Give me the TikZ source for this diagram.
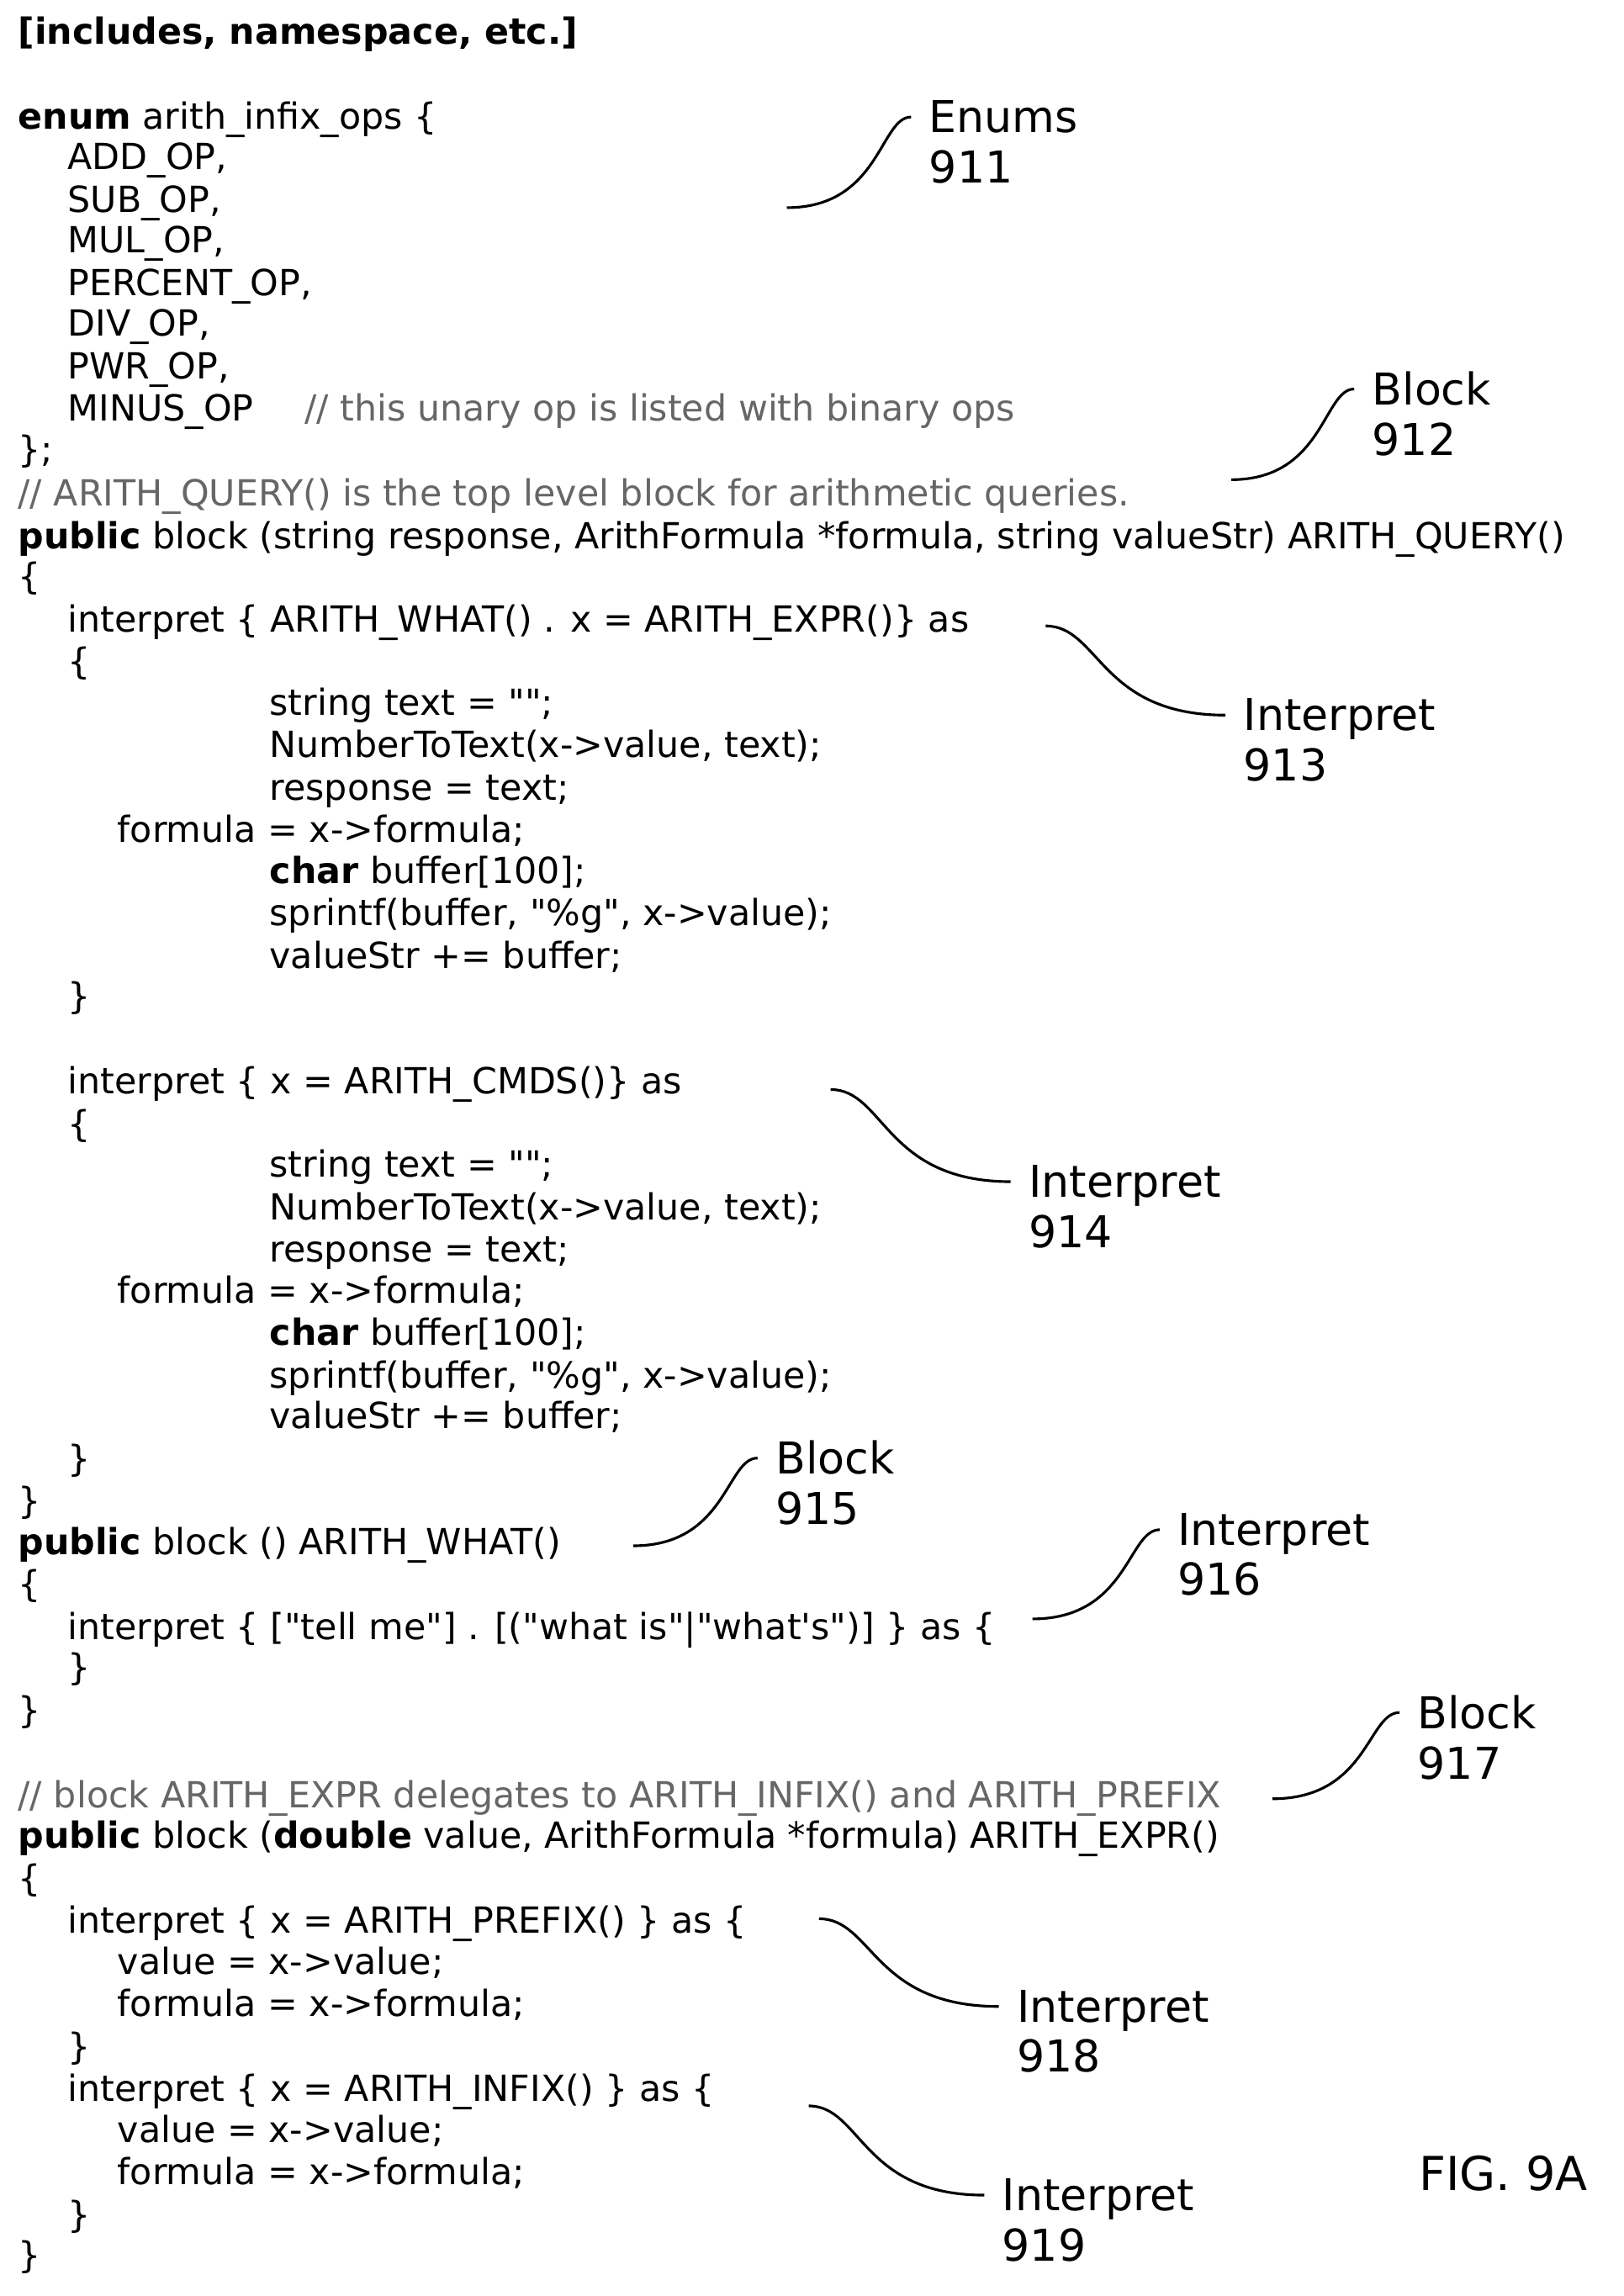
\documentclass[tikz,border=0pt]{standalone}
\usepackage{fontspec}
\setmainfont{DejaVu Sans}[Ligatures=TeXOff]
\begin{document}
\begin{tikzpicture}[x=0.5pt,y=-0.5pt,
  code/.style={anchor=base west,inner sep=0pt,font=\fontsize{12.3}{14}\selectfont},
  cmt/.style={code,text=black!60},
  lab/.style={anchor=west,inner sep=0pt,align=left,font=\fontsize{15}{17.2}\selectfont},
  lead/.style={line width=0.9pt}]
\useasboundingbox (0,0) rectangle (1110,1570);
\newcommand\cl[4][code]{\node[#1] (L#3) at (#2,#3+8) {#4};}
\cl{12}{22}{\textbf{[includes, namespace, etc.]}}
\cl{12}{80}{\textbf{enum} arith\_infix\_ops \{}
\cl{46}{108}{ADD\_OP,}
\cl{46}{137}{SUB\_OP,}
\cl{46}{165}{MUL\_OP,}
\cl{46}{194}{PERCENT\_OP,}
\cl{46}{222}{DIV\_OP,}
\cl{46}{251}{PWR\_OP,}
\cl{46}{280}{MINUS\_OP}
\cl[cmt]{208}{280}{// this unary op is listed with binary ops}
\cl{12}{308}{\};}
\cl[cmt]{12}{338}{// ARITH\_QUERY() is the top level block for arithmetic queries.}
\cl{12}{367}{\textbf{public} block (string response, ArithFormula *formula, string valueStr) ARITH\_QUERY()}
\cl{12}{395}{\{}
\cl{46}{424}{interpret \{ ARITH\_WHAT() . x = ARITH\_EXPR()\} as}
\cl{46}{453}{\{}
\cl{184}{481}{string text = "";}
\cl{184}{510}{NumberToText(x->value, text);}
\cl{184}{539}{response = text;}
\cl{80}{568}{formula = x->formula;}
\cl{184}{596}{\textbf{char} buffer[100];}
\cl{184}{625}{sprintf(buffer, "\%g", x->value);}
\cl{184}{654}{valueStr += buffer;}
\cl{46}{682}{\}}
\cl{46}{740}{interpret \{ x = ARITH\_CMDS()\} as}
\cl{46}{769}{\{}
\cl{184}{797}{string text = "";}
\cl{184}{826}{NumberToText(x->value, text);}
\cl{184}{855}{response = text;}
\cl{80}{883}{formula = x->formula;}
\cl{184}{912}{\textbf{char} buffer[100];}
\cl{184}{941}{sprintf(buffer, "\%g", x->value);}
\cl{184}{969}{valueStr += buffer;}
\cl{46}{998}{\}}
\cl{12}{1027}{\}}
\cl{12}{1055}{\textbf{public} block () ARITH\_WHAT()}
\cl{12}{1084}{\{}
\cl{46}{1113}{interpret \{ ["tell me"] . [("what is"|"what's")] \} as \{}
\cl{46}{1141}{\}}
\cl{12}{1170}{\}}
\cl[cmt]{12}{1228}{// block ARITH\_EXPR delegates to ARITH\_INFIX() and ARITH\_PREFIX}
\cl{12}{1256}{\textbf{public} block (\textbf{double} value, ArithFormula *formula) ARITH\_EXPR()}
\cl{12}{1285}{\{}
\cl{46}{1314}{interpret \{ x = ARITH\_PREFIX() \} as \{}
\cl{80}{1342}{value = x->value;}
\cl{80}{1371}{formula = x->formula;}
\cl{46}{1400}{\}}
\cl{46}{1429}{interpret \{ x = ARITH\_INFIX() \} as \{}
\cl{80}{1457}{value = x->value;}
\cl{80}{1486}{formula = x->formula;}
\cl{46}{1515}{\}}
\cl{12}{1543}{\}}
% labels
\newcommand\lbl[7]{%
  \node[lab] (#1) at (#2,#3+17) {#4};
  \coordinate (#1s) at (#5,#6);
  \coordinate (#1e) at (#2-12,#3);
  \draw[lead] (#1s) .. controls ({#5+#7*(#2-12-#5)},#6) and ({#5+#7*(#2-12-#5)},#3) .. (#1e);}
\lbl{n911}{635}{80}{Enums\\911}{538}{142}{0.75}
\lbl{n912}{938}{266}{Block\\912}{842}{328}{0.75}
\lbl{n913}{850}{489}{Interpret\\913}{715}{428}{0.3}
\lbl{n914}{703}{808}{Interpret\\914}{568}{745}{0.3}
\lbl{n915}{530}{997}{Block\\915}{433}{1057}{0.75}
\lbl{n916}{805}{1046}{Interpret\\916}{706}{1107}{0.75}
\lbl{n917}{969}{1171}{Block\\917}{870}{1230}{0.75}
\lbl{n918}{695}{1372}{Interpret\\918}{560}{1312}{0.3}
\lbl{n919}{685}{1501}{Interpret\\919}{553}{1440}{0.3}
\node[lab,font=\fontsize{16}{19}\selectfont] (fig) at (970,1486) {FIG. 9A};
\end{tikzpicture}
\end{document}
